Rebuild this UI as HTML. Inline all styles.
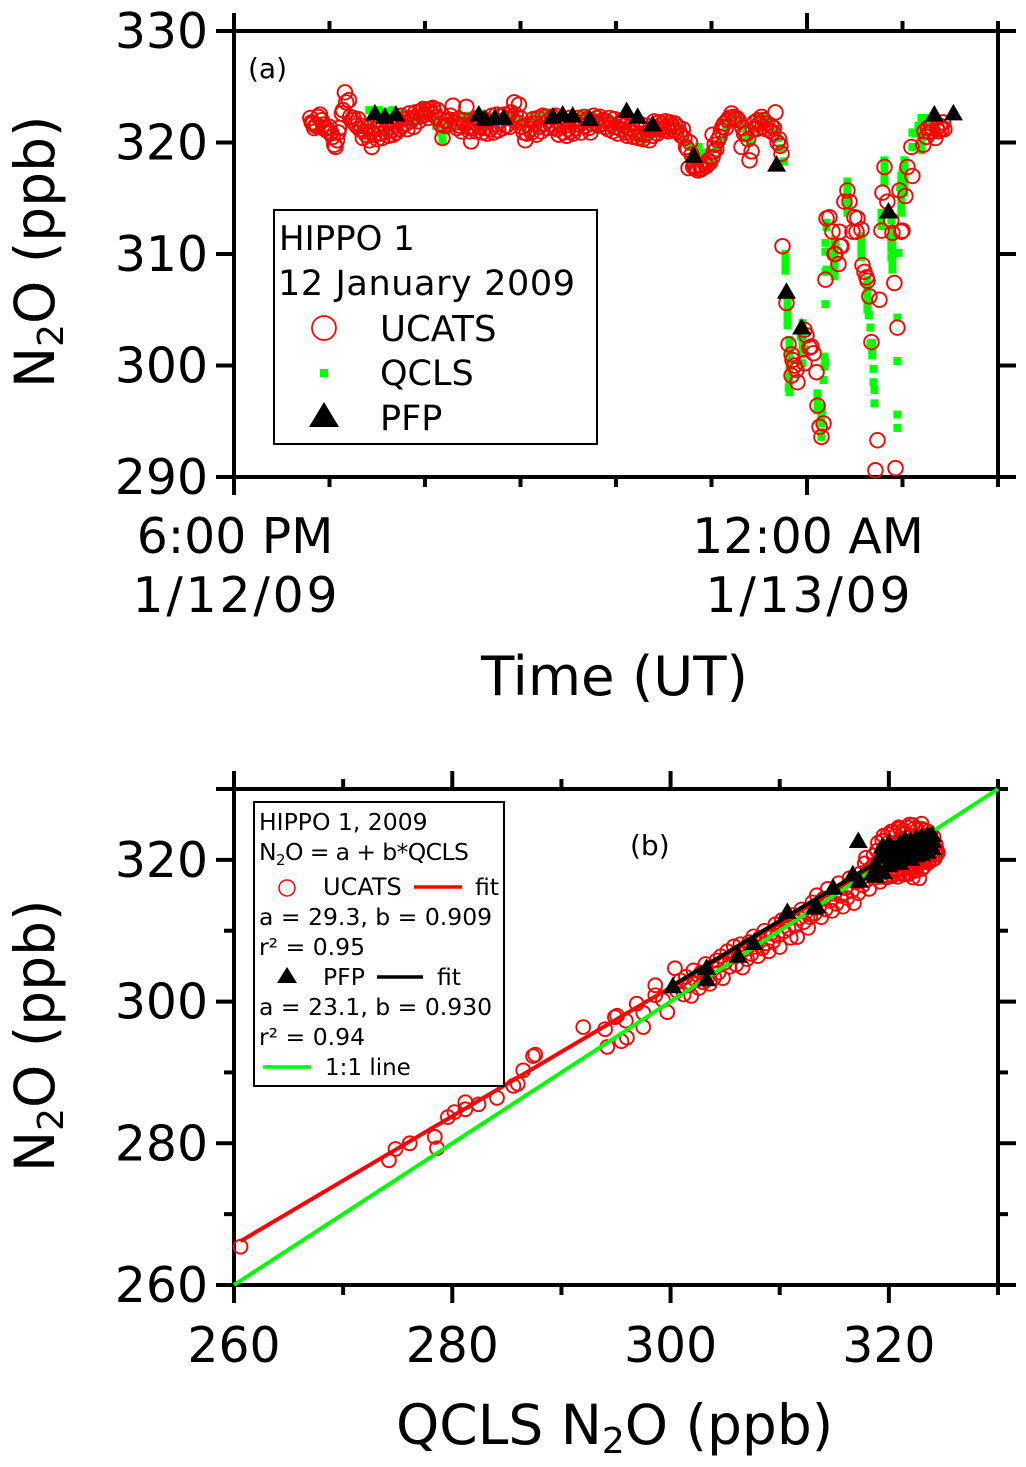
<!DOCTYPE html>
<html>
<head>
<meta charset="utf-8">
<title>N2O comparison chart</title>
<style>
html,body{margin:0;padding:0;background:#fff;}
svg{display:block;}
text{font-family:"DejaVu Sans","Liberation Sans",sans-serif;fill:#000;}
</style>
</head>
<body>
<svg id="chart" xmlns="http://www.w3.org/2000/svg" width="1026" height="1467" viewBox="0 0 1026 1467">
<rect x="0" y="0" width="1026" height="1467" fill="#fff"/>
<g id="axes"></g>
<g id="marks"></g>
<g id="labels">
<text x="248" y="78" font-size="28">(a)</text>
<text x="630" y="855" font-size="28">(b)</text>
<text transform="translate(54,388) rotate(-90)" font-size="55">N<tspan font-size="36" dy="9">2</tspan><tspan dy="-9">O (ppb)</tspan></text>
<text transform="translate(54,1172) rotate(-90)" font-size="55">N<tspan font-size="36" dy="9">2</tspan><tspan dy="-9">O (ppb)</tspan></text>
<text x="481" y="695" font-size="54.6">Time (UT)</text>
<text x="396" y="1444" font-size="55">QCLS N<tspan font-size="36" dy="9">2</tspan><tspan dy="-9">O (ppb)</tspan></text>
</g>
<g id="legend-a">
<rect x="274" y="210" width="323" height="234" fill="#fff" stroke="#000" stroke-width="2"/>
<text x="279" y="250" font-size="34">HIPPO 1</text>
<text x="278" y="295" font-size="35" textLength="297" lengthAdjust="spacing">12 January 2009</text>
<circle cx="324" cy="328" r="12" fill="none" stroke="#f00" stroke-width="1.7"/>
<text x="380" y="341" font-size="35.5">UCATS</text>
<rect x="320" y="369" width="8" height="8" fill="#0f0"/>
<text x="380" y="385" font-size="35">QCLS</text>
<polygon points="324,402 339,427 309,427" fill="#000"/>
<text x="380" y="430" font-size="35">PFP</text>
</g>
<g id="legend-b">
<rect x="254" y="802" width="250" height="284" fill="#fff" stroke="#000" stroke-width="2"/>
<text x="259" y="830" font-size="23.5">HIPPO 1, 2009</text>
<text x="259" y="860" font-size="23.5" letter-spacing="-0.6">N<tspan font-size="15" dy="5">2</tspan><tspan dy="-5">O = a + b*QCLS</tspan></text>
<circle cx="287" cy="888" r="8" fill="none" stroke="#f00" stroke-width="1.5"/>
<text x="323" y="895" font-size="24">UCATS</text>
<line x1="414" x2="462" y1="887" y2="887" stroke="#f00" stroke-width="3.5"/>
<text x="475" y="895" font-size="23.5">fit</text>
<text x="259" y="925" font-size="23.5">a = 29.3, b = 0.909</text>
<text x="259" y="955" font-size="23.5">r² = 0.95</text>
<polygon points="287,967 297,983 277,983" fill="#000"/>
<text x="323" y="985" font-size="23.5">PFP</text>
<line x1="377" x2="423" y1="977" y2="977" stroke="#000" stroke-width="3.5"/>
<text x="437" y="985" font-size="23.5">fit</text>
<text x="259" y="1015" font-size="23.5">a = 23.1, b = 0.930</text>
<text x="259" y="1045" font-size="23.5">r² = 0.94</text>
<line x1="263" x2="311" y1="1067" y2="1067" stroke="#0f0" stroke-width="3.5"/>
<text x="325" y="1075" font-size="23">1:1 line</text>
</g>
</svg>
<script>
// ---------- Tick data ----------
const panelATimeTicks = [0, 60, 120, 180, 240, 300, 360, 420, 480];
const panelATimeMajor = [0, 360];
const panelATimeLabels = [["6:00 PM", "1/12/09"], ["12:00 AM", "1/13/09"]];
const panelAValueTicks = [290, 300, 310, 320, 330];
const panelBTicks = [260, 270, 280, 290, 300, 310, 320, 330];
const panelBMajor = [260, 280, 300, 320];

// ---------- Panel (a): [minutes after 18:00 UT, N2O ppb] ----------
const ucatsTimeSeries = [
[48,322.2],[48.8,321.8],[49.6,321.7],[50.4,321.3],[51.2,321.5],[52,321.6],[53,322.3],[54,322.5],[55,322],[56,321.6],[57,321.2],[58,321.3],[59,321],[60,321.4],[61,320.9],[62,320.5],[63,319.8],[63.8,319.6],[64.7,320.2],[65.5,320.9],[66,321.3],[67.8,322.6],[68.5,322.9],[69.7,324.5],[70.5,323.6],[72.2,323.8],[73,322.3],[74,322],[75,322.2],[76,321.7],[77,321.5],[78,322.1],[79,321.2],[80,321.5],[81,320.4],[82,321],[83,320.7],[84,321.3],[85,320.2],[86,320.9],[86.6,319.6],[88,320.7],[89,321.2],[90,320.3],[91,321.5],[92,320.8],[93,320.4],[94,321.7],[95,320.9],[96,321.3],[97,320.6],[98,321.8],[99,321.1],[100,320.7],[101,321.6],[102,320.9],[103,322],[104,321.2],[105,322.4],[106,321.5],[107,322.1],[108,321.7],[109,321.2],[110,322.6],[111,321.9],[112,322.2],[113,321.4],[114,322.7],[115,322.3],[116,321.9],[117,322.8],[118,322.4],[119,323],[120,322.5],[121,322.9],[122,322.2],[123,323],[124,322.6],[125,323.1],[126,322.7],[127,322.3],[128,322.9],[129,322.1],[130,321.6],[131,320.4],[132,321.5],[133,321.9],[134,322],[135,321.6],[136,322.4],[137.5,323.3],[139,321.8],[140,321.3],[141,322.1],[142,321.5],[143,321],[144,322],[145,321.6],[146,323.2],[147,321.4],[148,321],[149,320.1],[150,321.3],[151,321.8],[152,321],[153,322.2],[154,321.4],[155,321.7],[156,320.9],[157,322.1],[158,321.3],[159,320.8],[160,321.9],[161,321.2],[162,322.4],[163,320.9],[164,321.6],[165,322.5],[166,321.1],[167,321.9],[168,322.4],[169,321.3],[170,322.5],[171,321.5],[172,322.2],[173,321.4],[174,322.7],[175,322.1],[176,323.6],[177,322.5],[178,321.8],[179,323.4],[180,322.2],[181,321.4],[182,320.9],[183,320.2],[184,320.8],[185,321.6],[186,321.2],[187,320.9],[188,322.1],[189,321.7],[190,320.7],[191,322.2],[192,321.4],[193,321],[194,322.4],[195,321.7],[196,322.3],[197,321.3],[198,322],[199,321.6],[200,322.3],[201,321.4],[202,322.4],[203,321.2],[204,320.7],[205,321.6],[206,322.1],[207,320.9],[208,321.5],[209,320.6],[210,321.2],[211,322.2],[212,321],[213,320.8],[214,321.9],[215,321.3],[216,322.2],[217,321.6],[218,320.9],[219,321.8],[220,322.3],[221,321.5],[222,322.1],[223,321.3],[224,320.9],[225,321.7],[226,322.4],[227,321.8],[228,322.2],[229,321.5],[230,322.3],[231,321.7],[232,322],[233,321.4],[234,321.9],[235,321.2],[236,322.2],[237,321.6],[238,321],[239,322.1],[240,321.4],[241,320.8],[242,321.7],[243,321.2],[244,322],[245,321.5],[246,320.9],[247,320.6],[248,321.3],[249,320.9],[250,321.6],[251,320.5],[252,320.9],[253,321.4],[254,320.4],[255,320.8],[256,321.6],[257,320.3],[258,320.7],[259,321.5],[260,320.9],[261,320.2],[262,321.1],[263,320.6],[264,321.9],[265,321.3],[266,320.8],[267,321.8],[268,321.2],[269,321.7],[270,321.1],[271,321.9],[272,321.4],[273,321],[274,321.8],[275,321.5],[276,321.1],[277,321.7],[278,321],[279,321.4],[280,320.9],[281,320.6],[282,321.2],[283,320.4],[284,319.6],[285,319.4],[285.6,317.7],[286.5,320],[287.5,318.9],[288.5,317.8],[289.5,317.9],[290.5,317.7],[291.3,317.5],[292.5,318],[293.5,317.6],[294.5,317.7],[295.7,318.1],[296.9,317.9],[298,318.4],[299,318.2],[300.7,318.7],[301.5,319.2],[302,319.8],[303,319.4],[304,320.2],[300.7,320.7],[305,320.5],[306,321.1],[307,321.4],[308,321.7],[309,321.3],[310,322],[311,322.2],[312.6,322.6],[313.5,322.3],[314.5,322.1],[315.8,322.2],[317,322],[318.9,319.6],[319.5,321.3],[320.5,320.8],[322,320.8],[323,320.3],[323.9,318.4],[325.2,319.2],[326,321.2],[327,321.8],[328,321.2],[329,322],[330,321.7],[331.4,322.3],[332,321.4],[333,322],[334,321.2],[335,321.7],[336.5,321.1],[337.5,321.5],[338.5,320.9],[339.2,321.3],[340.2,322.7],[341.5,320],[342.5,320.3],[343.3,319.7],[344,319],
[344.6,310.7],[347.1,305.6],[348.4,301.9],[350.3,301],[350.9,300.5],[352.2,300],[353.4,299.6],[350.3,299.1],[354,298.5],[358.4,300.2],[359.7,302.7],[358.4,303.2],[361.6,301.6],[362.8,301.7],[364.1,301.1],[366,299.4],[366.6,296.4],[370.4,294.8],[367.9,294.5],[369.1,293.6],[371.6,307.7],[372.3,313.2],[374.1,313.3],[376,312],[377.3,310],[377.9,310],[379.8,309.1],[380.4,312],[381,310.7],[381.7,310.7],[383.5,314.7],[385.4,315.7],[386.7,314.7],[388.6,312],[389.8,313.3],[391.1,312],[391.7,313.2],[394.2,312.2],[394.9,309],[396.1,308.4],[397.4,307.9],[398,307.6],[399.2,306.2],[405.5,305.9],[400.5,302.1],[404.3,293.3],[403,290.6],[415.6,290.8],[416.8,303.4],[414.9,307.4],[413.7,311.9],[419.3,312],[406.8,312.1],[408.7,317.8],[407.4,315.5],[410.5,314.7],[413,313],[420,312.1],[418.1,315.7],[421.8,315.2],[423.1,317.8],[426.2,317],[425.6,319.6],[433.1,319.8],[433.8,321],[435,320.5],[436,321.3],[437,320.9],[438,321.4],[439,321],[440.7,320.4],[441.5,321.3],[442.5,321],[443.5,321.5],[444.5,321.2],[445.5,321.8],[446.3,321.2]
];
const qclsTimeSeries = [
[85,322.9],[88,322.6],[91,322.9],[94,322.7],[97,322.8],[100,322.9],[103,322.7],[106,322.5],[109,322.3],[112,322],[115,322.1],[118,322.6],[121,322.4],[124,322.2],[127,321.5],[129,320.9],[131,320.2],[132.5,321],[134,321.8],[137,322.2],[140,322.2],[143,322.3],[146,322.4],[149,322.1],[152,322.4],[155,322.6],[158,322.3],[161,322.1],[164,322.2],[167,322.3],[170,322.4],[173,322.3],[176,322.2],[179,321.8],[182,321.5],[185,322],[188,322.3],[191,322.3],[194,322.5],[197,322.7],[200,322.4],[203,322.2],[206,322.2],[209,322.1],[212,322],[215,322.3],[218,322.4],[221,322.5],[224,322.3],[227,322.2],[230,322.3],[233,322.2],[236,322.1],[239,321.9],[242,321.6],[245,321.4],[248,321],[251,320.6],[254,320.3],[256.5,320],[259,320.5],[262,321.2],[265,321.7],[268,322],[271,321.9],[274,322],[277,321.8],[280,321.1],[283,320.1],[286,319.8],[289,319],[292,319.6],[295,319.1],[297.5,318.4],[300,318.2],[303,319.4],[306,320.2],[309,321.5],[312,322.3],[315,322.2],[318,322],[320,321.3],[322,320.4],[324,320],[327,321.2],[330,322.2],[333,322.4],[336,322],[339,321.2],[342,320.4],[344,319.5],[345.5,318.3],
[346.5,310],[346.5,309.4],[346.5,308.8],[346.5,308.5],[347.8,305.9],[347.8,305.4],[347.8,305],[347.8,304.5],[347.8,304],[347.8,303.6],[349,302.3],[349,301.6],[349,301],[349,300.5],[349,300],[349,299.5],[349,299],[349,298.5],[348.6,298],[349,297.6],[357.2,303.8],[357.2,303.3],[357.2,302.8],[357.2,302.3],[357.2,301.8],[357.2,301.4],[357.2,301],[357.2,300.2],[356,302.6],[358.5,301.5],[371,300.8],[371.5,300.3],[371,299.9],[370.4,298.7],[366.6,297.5],[366.6,297],[366.6,296.5],[366.6,296],[369,296.3],[369.5,296],[369,295.5],[369,295],[369,294.8],[369,294],[369,293.6],[371.6,308.4],[371.6,305.5],[371.6,310.2],[371.6,311],[372.3,312.4],[372.3,312.8],[372.3,308.6],[377.3,311.3],[377.3,310.9],[377.3,310.5],[377.3,310.1],[377.3,309.7],[377.3,309.4],[377.3,309],[377.3,308.5],[377.3,308],[376.5,309.8],[378,311],[394.2,311.4],[394,311.6],[394.2,311],[394.2,310.5],[394.2,310.1],[394.2,309.7],[398,307.7],[398,307.3],[398,306.9],[398,306.4],[398,306],[398,305.5],[398,305],[399,304.5],[399.9,303.4],[399.9,302],[401,302],[401,301.4],[401,300.9],[401.8,299.7],[401.8,298.5],[402.4,297.8],[402.4,296.6],[413.7,311.3],[413.7,310.7],[413.7,310.2],[413.7,309.5],[413.7,309],[413.7,308.6],[417.5,310.1],[416.8,304.3],[416.8,300.4],[416.8,295.6],[416.8,294.4],[385.4,316.5],[385.4,316],[385.4,315.5],[385.4,315],[385.4,314.5],[385.4,314],[385.4,313.7],[384.5,315],[386.2,314.2],[408.7,318.4],[408.7,318],[408.7,317.5],[408.7,317],[408.7,316.4],[406.8,313.7],[406.8,313.1],[406.8,312.5],[413,313],[413,312],[413,311.5],[413,311],[413,310.5],[413,309.7],[419.3,317],[419.3,316.5],[419.3,316],[419.3,315.5],[419.3,315],[419.3,314.5],[419.3,314],[419.3,313.7],[418.5,316],[421.2,318.4],[421.2,318],[421.2,317.5],[421.2,317],[421.2,316.5],[421.2,316],[421.2,315.5],[420,317.3],[426.2,320.9],[426.2,319.6],[428,320.8],[430,321.5],[431.9,322.2],[431.9,321.8],[431.9,321.3],[431.9,320.9],[431.9,320.4],[431.9,319.9],[431.9,319.3],[436,322.2],[436.9,322]
];
const pfpTimeSeries = [
[88.5,322.7],[94.8,322.4],[101.7,322.6],[153.8,322.6],[157.6,322.2],[163.8,322.3],[169.5,322.3],[200.3,322.4],[206.5,322.6],[212.8,322.5],[223.5,322.2],[246.7,322.9],[253.6,322.4],[263,321.7],[288.8,318.9],[340.9,318.1],[347.1,306.7],[356.6,303.5],[411.2,313.9],[440,322.6],[452,322.7]
];

// ---------- Panel (b): [QCLS ppb, instrument ppb] ----------
const ucatsVsQcls = [
[260.6,265.4],[274.2,277.6],[274.8,279.2],[276.1,280],[278.4,280.9],[278.6,279.3],[279.6,283.7],[280.2,284.4],[281.2,285.8],[281.2,284.8],[282.4,285.5],[284.1,286.4],[285.6,288.1],[286,288.4],[286.5,290.3],[287.4,292.3],[287.6,292.5],[292,296.4],[294,296.1],[294.2,293.6],[294.9,297.8],[295.1,298],[295.9,297.3],[296,294.9],[295.5,294.4],[296.9,299.7],[297.5,296.4],[297.5,298.4],[298.6,302.3],[298.6,300.9],[299.7,298.5],[300.4,304.7],[299.3,300.2],
[300.6,301.5],[300.9,303],[301.2,301],[301.4,303.5],[301.7,302.3],[301.9,300.8],[302.1,304.4],[302.3,303],[302.6,301.9],[302.8,304.1],[303,302.7],[303.2,305.3],[303.4,303.5],[303.6,302.5],[303.8,304.9],[304,303.4],[304.2,305.8],[304.4,304.1],[304.6,306.4],[304.8,303.3],[305,305.5],[305.2,307.1],[305.4,304.9],[305.6,306.3],[305.8,307.8],[306,305.2],[306.2,306.9],[306.4,308.1],[306.6,304.8],[306.8,307.4],[307,306],[307.2,308.4],[307.4,306.7],[307.6,309.2],[307.8,307.7],[308,306.4],[308.2,309],[308.4,307.5],[308.6,310],[308.8,308.2],[309,307.1],[309.2,309.6],[309.4,308.5],[309.6,310.9],[309.8,309.3],[310,307.7],[310.2,311.5],[310.4,309.9],[310.6,311.7],[310.8,310.3],[311,309],[311.2,312.2],[311.4,310.7],[311.6,309.1],[311.8,311.8],[312,313],[312.2,311.2],[312.4,312.6],[312.6,310.4],[312.8,311.9],[313,314],[313.2,312.4],[313.4,315],[313.6,313.3],[313.8,311.9],[314,314.5],[314.2,313],[314.4,315.9],[314.6,314.2],[314.8,312.8],[315,315.2],[315.2,313.8],[315.4,316.7],[315.6,314.9],[315.8,313.4],[316,316],[316.2,314.6],[316.4,317.4],[316.6,315.6],[316.8,313.9],[317,316.8],[317.2,315.3],[317.4,318.1],[317.6,316.4],[317.8,319.5],[318,317.2],[318.2,315.9],[318.4,318.9],[318.6,320.6],[318.8,317.5],[319,319.8],[319,322.4],[319.2,316.9],[319.4,321.2],[319.5,323.4],[319.7,318.3],[320,320.3],[320,322.5],[320.2,324],[320.2,317.9],[320.5,319.3],[320.5,321.5],[320.6,323.4],[320.8,318.6],[321,320.6],[321,322.8],[321,324.4],[321.2,319],[321.4,321.6],[321.4,323.7],[321.5,318],[321.7,320.1],[321.7,324.6],[321.8,322.4],[322,319],[322,321],[322,323.4],[322.2,317.5],[322.2,324.9],[322.4,320.1],[322.4,322.2],[322.5,318.6],[322.6,324.2],[322.7,321.2],[322.8,319.6],[322.8,323],[323,318.7],[323,320.6],[323,324.4],[323.2,322],[323.3,319.8],[323.4,323.4],[323.5,320.7],[323.6,324],[323.7,319.9],[323.8,322],[324,320.6],[324,321.6],[324.1,323.2],[324.2,320.2],[324.3,322.2],[324.4,320.8],[324.4,321.4],[324.5,321],
[319.3,317.6],[319.8,317.5],[320.3,317.7],[320.8,317.6],[321.3,317.9],[321.8,318],[322.3,318.4],[322.8,317.4],[323.2,319],[323.6,319.6],[324,320],[320.1,318.5],[320.6,318.4],[321.1,318.7],[321.6,319],[322.1,319.4],[322.6,319.8],[323.1,320],[323.5,320.4],[320.2,319.4],[320.7,319.7],[321.3,320],[321.8,320.3],[322.3,320.5],[322.9,321],[323.4,320.9],[324.2,321.3],[318.6,319.2],[318.9,321.3],[319.4,322.7],[319.9,323.6],[320.4,324],[320.9,324.6],[321.3,324.2],[321.9,325],[322.4,324.5],[323,325.1],[323.3,324.2],[323.8,323.5],[318.1,318.5],[317.9,320.3]
];
const pfpVsQcls = [
[300.2,302.3],[303.3,304.9],[303.3,303.3],[306.2,306.6],[307.6,308.4],[310.7,312.8],[313.2,313.4],[313.4,313.6],[314.9,316.2],[316.7,318.1],[317.3,317.2],[317.2,322.8],[318.5,318.2],[318.8,317.9],[319,319],[319.2,320.6],[319.4,322],[319.5,318.4],[320,319.4],[320,321],[320,322.5],[320.5,320],[320.5,321.7],[321,319.7],[321,321],[321,322.5],[321.5,320.5],[321.5,322],[321.5,323],[322,320.3],[322,321.5],[322,322.8],[322.5,320.8],[322.5,322],[322.5,323.2],[323,321],[323,322.3],[323,323.4],[323.5,321.3],[323.5,322.5],[323.5,323.5],[324,321.8],[324,322.8],[324,323.6]
];
const ucatsFit = [29.3, 0.909];
const pfpFit = [23.1, 0.930];
const ucatsFitRange = [260.6, 324.5];
const pfpFitRange = [300.2, 324];
const oneToOneRange = [260, 330];

// ---------- Axis functions ----------
const pa = {l:234, r:998, t:31, b:477};
const pb = {l:234, r:998, t:789, b:1285};
function xA(t){ return pa.l + (t - 0) * (pa.r - pa.l) / 480; }
function yA(v){ return pa.b - (v - 290) * (pa.b - pa.t) / 40; }
function xB(v){ return pb.l + (v - 260) * (pb.r - pb.l) / 70; }
function yB(v){ return pb.b - (v - 260) * (pb.b - pb.t) / 70; }

const NS = 'http://www.w3.org/2000/svg';
const axesG = document.getElementById('axes');
const marksG = document.getElementById('marks');
function mk(tag, parent, attrs){
  const e = document.createElementNS(NS, tag);
  for (const k in attrs) e.setAttribute(k, attrs[k]);
  parent.appendChild(e);
  return e;
}
function seg(parent, x1, y1, x2, y2, name){
  const e = mk('line', parent, {x1:x1, y1:y1, x2:x2, y2:y2, stroke:'#000', 'stroke-width':4});
  
  
  return e;
}
function label(parent, str, x, y, anchor, name, fit){
  const e = mk('text', parent, {x:x, y:y, 'text-anchor':anchor, 'font-size':48.8});
  if (fit) {
    e.setAttribute('textLength', fit);
    e.setAttribute('lengthAdjust', 'spacing');
  }
  e.textContent = str;
  
  
  return e;
}

// Panel (a) frame
seg(axesG, pa.l, pa.t - 18, pa.l, pa.b + 18, 'panel-a-left-axis');
seg(axesG, pa.r, pa.t - 10, pa.r, pa.b + 10, 'panel-a-right-axis');
seg(axesG, pa.l - 18, pa.t, pa.r + 18, pa.t, 'panel-a-top-axis');
seg(axesG, pa.l - 18, pa.b, pa.r + 18, pa.b, 'panel-a-bottom-axis');
panelATimeTicks.forEach(function(t){
  const major = panelATimeMajor.indexOf(t) >= 0;
  const len = major ? 18 : 10;
  const x = xA(t);
  seg(axesG, x, pa.t, x, pa.t - len, 'panel-a-top-tick');
  seg(axesG, x, pa.b, x, pa.b + len, 'panel-a-bottom-tick');
});
panelAValueTicks.forEach(function(v){
  const y = yA(v);
  seg(axesG, pa.l, y, pa.l - 18, y, 'panel-a-left-tick');
  seg(axesG, pa.r, y, pa.r + 18, y, 'panel-a-right-tick');
  label(axesG, String(v), 208, y + 17, 'end', 'panel-a-y-tick-label');
});
panelATimeMajor.forEach(function(t, i){
  const x = xA(t) + 1;
  label(axesG, panelATimeLabels[i][0], x, 553, 'middle', 'panel-a-x-tick-time');
  label(axesG, panelATimeLabels[i][1], x, 612, 'middle', 'panel-a-x-tick-date', 205);
});

// Panel (b) frame
seg(axesG, pb.l, pb.t - 18, pb.l, pb.b + 18, 'panel-b-left-axis');
seg(axesG, pb.r, pb.t - 10, pb.r, pb.b + 10, 'panel-b-right-axis');
seg(axesG, pb.l - 18, pb.t, pb.r + 10, pb.t, 'panel-b-top-axis');
seg(axesG, pb.l - 18, pb.b, pb.r + 18, pb.b, 'panel-b-bottom-axis');
panelBTicks.forEach(function(v){
  const major = panelBMajor.indexOf(v) >= 0;
  const len = major ? 18 : 10;
  const x = xB(v), y = yB(v);
  seg(axesG, x, pb.t, x, pb.t - len, 'panel-b-top-tick');
  seg(axesG, x, pb.b, x, pb.b + len, 'panel-b-bottom-tick');
  seg(axesG, pb.l, y, pb.l - len, y, 'panel-b-left-tick');
  seg(axesG, pb.r, y, pb.r + len, y, 'panel-b-right-tick');
  if (major) {
    label(axesG, String(v), 208, y + 17, 'end', 'panel-b-y-tick-label');
    label(axesG, String(v), x, 1362, 'middle', 'panel-b-x-tick-label');
  }
});

// Mark painters
function square(fx, fy, d, name){
  const s = 8;
  const e = mk('rect', marksG, {x:fx(d[0]) - s/2, y:fy(d[1]) - s/2, width:s, height:s, fill:'#0f0'});
  
  
}
function ring(fx, fy, d, r, name){
  const e = mk('circle', marksG, {cx:fx(d[0]), cy:fy(d[1]), r:r, fill:'none', stroke:'#f00', 'stroke-width':1.9});
  
  
}
function tri(fx, fy, d, name){
  const x = fx(d[0]), y = fy(d[1]);
  const pts = x + ',' + (y - 8.5) + ' ' + (x + 9.5) + ',' + (y + 8) + ' ' + (x - 9.5) + ',' + (y + 8);
  const e = mk('polygon', marksG, {points:pts, fill:'#000'});
  
  
}
function fitLine(coef, range, color, name){
  const e = mk('line', marksG, {
    x1:xB(range[0]), y1:yB(coef[0] + coef[1] * range[0]),
    x2:xB(range[1]), y2:yB(coef[0] + coef[1] * range[1]),
    stroke:color, 'stroke-width':4
  });
  
  
}

// Panel (a) marks
qclsTimeSeries.forEach(function(d){ square(xA, yA, d, 'qcls-point'); });
ucatsTimeSeries.forEach(function(d){ ring(xA, yA, d, 7.3, 'ucats-point'); });
pfpTimeSeries.forEach(function(d){ tri(xA, yA, d, 'pfp-point'); });

// Panel (b) marks
ucatsVsQcls.forEach(function(d){ ring(xB, yB, d, 6.9, 'ucats-scatter-point'); });
fitLine(ucatsFit, ucatsFitRange, '#f00', 'ucats-fit-line');
fitLine([0, 1], oneToOneRange, '#0f0', 'one-to-one-line');
fitLine(pfpFit, pfpFitRange, '#000', 'pfp-fit-line');
pfpVsQcls.forEach(function(d){ tri(xB, yB, d, 'pfp-scatter-point'); });
</script>
</body>
</html>
